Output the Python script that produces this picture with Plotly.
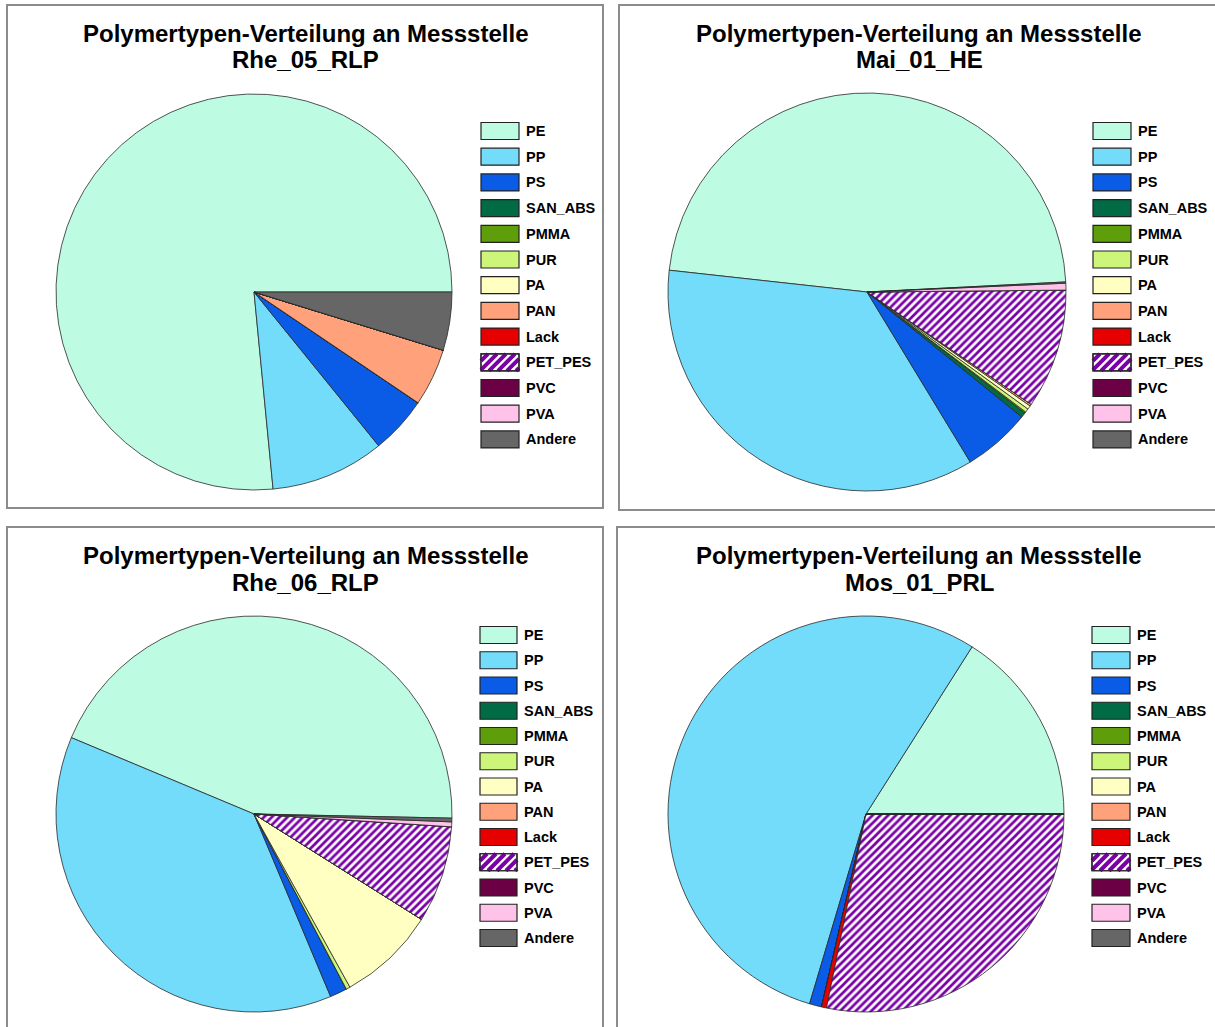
import plotly.graph_objects as go

W, H = 1215, 1027

categories = ["PE", "PP", "PS", "SAN_ABS", "PMMA", "PUR", "PA", "PAN", "Lack",
              "PET_PES", "PVC", "PVA", "Andere"]
colors = ["#BDFCE3", "#72DCFA", "#0A5CE6", "#006B45", "#5E9E0A", "#CCF57A",
          "#FFFFC2", "#FFA27C", "#E60000", "#FFFFFF", "#6B0045", "#FFC2E8", "#666666"]
stations = ["Rhe_05_RLP", "Mai_01_HE", "Rhe_06_RLP", "Mos_01_PRL"]

# shares in percent, order as categories
rhe05 = [76.5, 9.3, 4.7, 0, 0, 0, 0, 4.7, 0, 0, 0, 0, 4.75]
mai01 = [47.4, 35.4, 5.5, 0.4, 0.1, 0.3, 0.3, 0.15, 0, 9.7, 0, 0.55, 0.1]
rhe06 = [44.0, 37.6, 1.4, 0, 0, 0.33, 8.0, 0, 0, 7.9, 0, 0.4, 0.3]
mos01 = [16.0, 54.4, 1.0, 0, 0, 0, 0, 0, 0.4, 28.2, 0, 0, 0]
values = [rhe05, mai01, rhe06, mos01]

# angle (degrees clockwise from 12 o'clock) where the first slice (PE) begins;
# slices then run counterclockwise
start_angles = [90, 87.1, 91.2, 90]

FONT = "Arial, Liberation Sans, sans-serif"
STRIPE = "#7A00A8"

# panel layout in pixels
panels = [  # (x0, y0, x1, y1)
    (7, 5, 603, 508),
    (619, 5, 1218, 510),
    (7, 527, 603, 1032),
    (617, 527, 1218, 1032),
]
pie_centers = [(254, 292, 198), (867, 292, 199), (254, 814, 198), (866, 814, 198)]
title_x = [306, 919, 306, 919]
title_y = [(33, 60), (33, 60), (555, 582), (555, 582)]
legend_box_x = [(481, 519), (1093, 1131), (480, 517), (1092, 1130)]
legend_y0 = [131, 131, 635, 635]
legend_pitch = [25.7, 25.7, 25.25, 25.25]


def px(x):
    return x / W


def py(y):
    return 1 - y / H


fig = go.Figure()

for k in range(4):
    cx, cy, r = pie_centers[k]
    vals = values[k]
    first_deg = vals[0] / sum(vals) * 360.0
    shapes_pat = ["/" if c == "PET_PES" else "" for c in categories]
    fig.add_trace(go.Pie(
        labels=categories,
        values=vals,
        sort=False,
        direction="counterclockwise",
        rotation=start_angles[k] - first_deg,
        textinfo="none",
        hoverinfo="label+percent",
        showlegend=False,
        marker=dict(
            colors=colors,
            line=dict(color="#2A2A2A", width=0.8),
            pattern=dict(shape=shapes_pat, fgcolor=STRIPE, bgcolor="#FFFFFF",
                         fgopacity=1, size=5.5, solidity=0.5, fillmode="replace"),
        ),
        domain=dict(x=[px(cx - r), px(cx + r)], y=[py(cy + r), py(cy - r)]),
    ))

shapes = []
annotations = []

for k in range(4):
    x0, y0, x1, y1 = panels[k]
    shapes.append(dict(type="rect", xref="paper", yref="paper",
                       x0=px(x0), x1=px(x1), y0=py(y1), y1=py(y0),
                       line=dict(color="#8C8C8C", width=2), layer="below"))
    for line_text, yy in zip(["Polymertypen-Verteilung an Messstelle", stations[k]],
                             title_y[k]):
        annotations.append(dict(
            x=px(title_x[k]), y=py(yy), xref="paper", yref="paper",
            text="<b>" + line_text + "</b>",
            showarrow=False, xanchor="center", yanchor="middle",
            font=dict(family=FONT, size=24, color="#000000"),
        ))
    bx0, bx1 = legend_box_x[k]
    for i, cat in enumerate(categories):
        cyl = legend_y0[k] + legend_pitch[k] * i
        ty0, ty1 = cyl - 8.5, cyl + 8.5
        shapes.append(dict(type="rect", xref="paper", yref="paper",
                           x0=px(bx0), x1=px(bx1), y0=py(ty1), y1=py(ty0),
                           fillcolor=colors[i], line=dict(color="#222222", width=1.2)))
        if cat == "PET_PES":
            period = 9
            segs = []
            c = bx0 + ty0 - 20
            while c < bx1 + ty1 + 20:
                pts = []
                for yy in (ty0, ty1):
                    xx = c - yy
                    if bx0 <= xx <= bx1:
                        pts.append((xx, yy))
                for xx in (bx0, bx1):
                    yy = c - xx
                    if ty0 <= yy <= ty1:
                        pts.append((xx, yy))
                pts = sorted(set(pts))
                if len(pts) >= 2:
                    (ax, ay), (bx_, by_) = pts[0], pts[-1]
                    segs.append(f"M{px(ax)},{py(ay)} L{px(bx_)},{py(by_)}")
                c += period
            shapes.append(dict(type="path", xref="paper", yref="paper",
                               path=" ".join(segs),
                               line=dict(color=STRIPE, width=4)))
            shapes.append(dict(type="rect", xref="paper", yref="paper",
                               x0=px(bx0), x1=px(bx1), y0=py(ty1), y1=py(ty0),
                               line=dict(color="#222222", width=1.2)))
        annotations.append(dict(
            x=px(bx1 + 5), y=py(cyl), xref="paper", yref="paper",
            text="<b>" + cat + "</b>", showarrow=False,
            xanchor="left", yanchor="middle",
            font=dict(family=FONT, size=14.5, color="#000000"),
        ))

fig.update_layout(
    width=W, height=H,
    margin=dict(l=0, r=0, t=0, b=0),
    paper_bgcolor="#FFFFFF",
    plot_bgcolor="#FFFFFF",
    shapes=shapes,
    annotations=annotations,
    font=dict(family=FONT),
)

fig.write_html("out.html",
               config={"displayModeBar": False},
               post_script="document.body.style.margin='0';document.body.style.overflow='hidden';")
